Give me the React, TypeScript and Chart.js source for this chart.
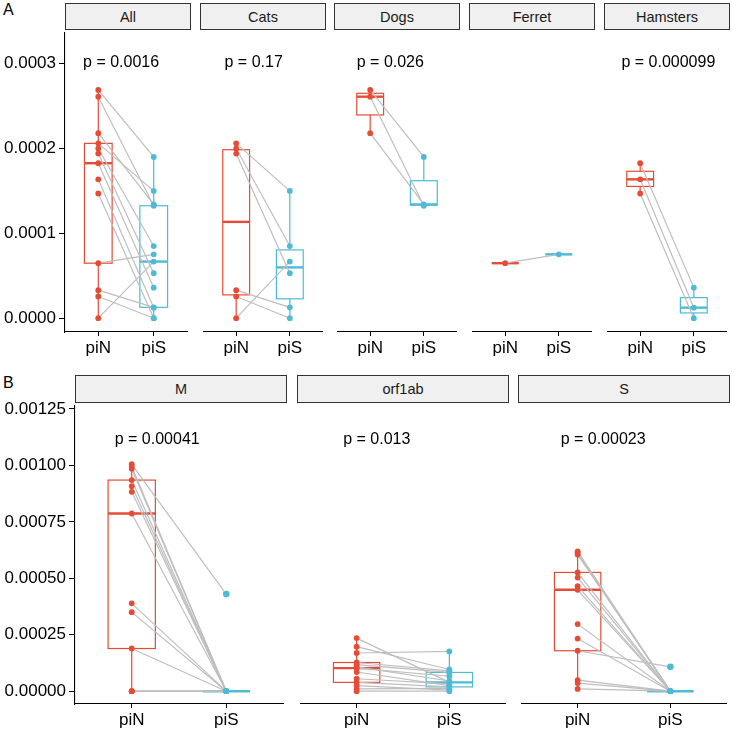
import React, { useEffect, useRef } from "react";
import { Chart, registerables } from "chart.js";
Chart.register(...registerables);

const FONT = "'Liberation Sans', Arial, Helvetica, sans-serif";
const RED = "#E64B35";
const BLUE = "#4DBBD5";
const PAIR_LINE = "#BEBEBE";

const xLabels = ["piN", "piS"];
const topTicks = [0, 0.0001, 0.0002, 0.0003];
const bottomTicks = [0, 0.00025, 0.0005, 0.00075, 0.001, 0.00125];

const topFacets = ["All", "Cats", "Dogs", "Ferret", "Hamsters"];
const bottomFacets = ["M", "orf1ab", "S"];
const topPValues = ["p = 0.0016", "p = 0.17", "p = 0.026", "", "p = 0.000099"];
const bottomPValues = ["p = 0.00041", "p = 0.013", "p = 0.00023"];
const topPLabelY = 0.000301;
const bottomPLabelY = 0.001114;

// Panel A (paired: piN[i] <-> piS[i])
const catsPiN = [0.000206, 0.0002, 0.000194, 0.000033, 0.0000256, 0.0];
const catsPiS = [0.00015, 0.000085, 0.000053, 0.0000128, 0.0, 0.0000667];
const dogsPiN = [0.000269, 0.000261, 0.000218];
const dogsPiS = [0.00019, 0.0001325, 0.000134];
const ferretPiN = [0.0000648];
const ferretPiS = [0.0000752];
const hamstersPiN = [0.0001826, 0.0001636, 0.0001469];
const hamstersPiS = [0.000036, 0.0000124, 0.0];
const allPiN = [...catsPiN, ...dogsPiN, ...ferretPiN, ...hamstersPiN];
const allPiS = [...catsPiS, ...dogsPiS, ...ferretPiS, ...hamstersPiS];

// Panel B (paired: piN[i] <-> piS[i])
const mPiN = [0.001005, 0.000995, 0.000985, 0.000935, 0.000908, 0.000883, 0.000787, 0.000389, 0.00035, 0.000189, 0.0, 0.0, 0.0];
const mPiS = [0.00043, 0, 0, 0, 0, 0, 0, 0, 0, 0, 0, 0, 0];
const orfPiN = [0.000235, 0.000197, 0.000169, 0.000127, 0.000118, 0.000108, 0.000102, 0.000085, 0.000055, 0.000039, 0.000025, 0.00001, 0.0];
const orfPiS = [0.000039, 0.000096, 0.000176, 0.00009, 0.000083, 0.000045, 0.000066, 0.000025, 0.000032, 0.000019, 0.000005, 0.000012, 0.0];
const sPiN = [0.000619, 0.000612, 0.000605, 0.000526, 0.000503, 0.000465, 0.000449, 0.000297, 0.000233, 0.000179, 0.000049, 0.000036, 0.00001];
const sPiS = [0, 0, 0, 0, 0, 0, 0, 0, 0, 0.000108, 0, 0, 0];

const topData = [
  [allPiN, allPiS],
  [catsPiN, catsPiS],
  [dogsPiN, dogsPiS],
  [ferretPiN, ferretPiS],
  [hamstersPiN, hamstersPiS],
];
const bottomData = [
  [mPiN, mPiS],
  [orfPiN, orfPiS],
  [sPiN, sPiS],
];

function boxStats(vals: number[]) {
  const s = [...vals].sort((a, b) => a - b);
  const n = s.length;
  const q = (p: number) => {
    const h = (n - 1) * p;
    const lo = Math.floor(h);
    const hi = Math.min(lo + 1, n - 1);
    return s[lo] + (h - lo) * (s[hi] - s[lo]);
  };
  const q1 = q(0.25), med = q(0.5), q3 = q(0.75);
  const iqr = q3 - q1;
  const eps = 1e-12;
  const inside = s.filter((v) => v >= q1 - 1.5 * iqr - eps && v <= q3 + 1.5 * iqr + eps);
  const out = s.filter((v) => v < q1 - 1.5 * iqr - eps || v > q3 + 1.5 * iqr + eps);
  return { q1, med, q3, lo: Math.min(...inside), hi: Math.max(...inside), out };
}

type PanelProps = {
  left: number;
  top: number;
  width: number;
  plotHeight: number;
  xAxisHeight: number;
  axisWidth: number;
  showY: boolean;
  piN: number[];
  piS: number[];
  yMin: number;
  yMax: number;
  yTicks: number[];
  decimals: number;
  pText: string;
  pY: number;
};

function Panel(p: PanelProps) {
  const ref = useRef<HTMLCanvasElement>(null);
  const height = p.plotHeight + p.xAxisHeight;
  useEffect(() => {
    const groups = [
      { x: 1, values: p.piN, color: RED },
      { x: 2, values: p.piS, color: BLUE },
    ];
    const boxPlugin = {
      id: "boxes",
      beforeDatasetsDraw(chart: any) {
        const { ctx } = chart;
        const xs = chart.scales.x;
        const ys = chart.scales.y;
        ctx.save();
        groups.forEach((g) => {
          const st = boxStats(g.values);
          const xc = xs.getPixelForValue(g.x);
          const xl = xs.getPixelForValue(g.x - 0.25);
          const xr = xs.getPixelForValue(g.x + 0.25);
          const yq1 = ys.getPixelForValue(st.q1);
          const yq3 = ys.getPixelForValue(st.q3);
          ctx.strokeStyle = g.color;
          ctx.lineWidth = 1.2;
          ctx.beginPath();
          ctx.moveTo(xc, yq3);
          ctx.lineTo(xc, ys.getPixelForValue(st.hi));
          ctx.moveTo(xc, yq1);
          ctx.lineTo(xc, ys.getPixelForValue(st.lo));
          ctx.stroke();
          ctx.fillStyle = "#FFFFFF";
          ctx.fillRect(xl, yq3, xr - xl, yq1 - yq3);
          ctx.strokeRect(xl, yq3, xr - xl, yq1 - yq3);
          ctx.lineWidth = 2.4;
          ctx.beginPath();
          const ym = ys.getPixelForValue(st.med);
          ctx.moveTo(xl, ym);
          ctx.lineTo(xr, ym);
          ctx.stroke();
          ctx.fillStyle = g.color;
          st.out.forEach((v) => {
            ctx.beginPath();
            ctx.arc(xc, ys.getPixelForValue(v), 3.3, 0, Math.PI * 2);
            ctx.fill();
          });
        });
        ctx.restore();
      },
    };
    const pPlugin = {
      id: "pvalue",
      afterDraw(chart: any) {
        if (!p.pText) return;
        const { ctx } = chart;
        ctx.save();
        ctx.font = `16px ${FONT}`;
        ctx.fillStyle = "#000000";
        ctx.textBaseline = "middle";
        ctx.textAlign = "left";
        const w = ctx.measureText(p.pText).width;
        const x = chart.scales.x.getPixelForValue(1) - 0.2 * w;
        ctx.fillText(p.pText, x, chart.scales.y.getPixelForValue(p.pY));
        ctx.restore();
      },
    };
    const pairDatasets = p.piN.map((v, i) => ({
      data: [
        { x: 1, y: v },
        { x: 2, y: p.piS[i] },
      ],
      showLine: true,
      borderColor: PAIR_LINE,
      borderWidth: 1.2,
      pointRadius: 0,
      order: 2,
    }));
    const chart = new Chart(ref.current as HTMLCanvasElement, {
      type: "scatter",
      data: {
        datasets: [
          {
            data: p.piN.map((v) => ({ x: 1, y: v })),
            backgroundColor: RED,
            borderWidth: 0,
            pointRadius: 2.9,
            order: 0,
          },
          {
            data: p.piS.map((v) => ({ x: 2, y: v })),
            backgroundColor: BLUE,
            borderWidth: 0,
            pointRadius: 2.9,
            order: 0,
          },
          ...pairDatasets,
        ] as any,
      },
      options: {
        animation: false,
        responsive: false,
        devicePixelRatio: 1,
        events: [],
        layout: { padding: 0 },
        plugins: {
          legend: { display: false },
          tooltip: { enabled: false },
          title: { display: false },
        },
        scales: {
          x: {
            type: "linear",
            min: 0.4,
            max: 2.6,
            afterBuildTicks: (s: any) => {
              s.ticks = [{ value: 1 }, { value: 2 }];
            },
            afterFit: (s: any) => {
              s.height = p.xAxisHeight;
              s.paddingLeft = 0;
              s.paddingRight = 0;
              s.paddingTop = 0;
              s.paddingBottom = 0;
            },
            ticks: {
              callback: (_v: any, i: number) => xLabels[i],
              font: { family: FONT, size: 17 },
              color: "#000000",
              padding: 2,
              maxRotation: 0,
              autoSkip: false,
            },
            grid: {
              display: true,
              drawOnChartArea: false,
              drawTicks: true,
              tickLength: 4,
              color: "#000000",
              lineWidth: 1,
            },
            border: { display: true, color: "#000000", width: 1.1 },
          },
          y: {
            type: "linear",
            display: p.showY,
            min: p.yMin,
            max: p.yMax,
            afterBuildTicks: (s: any) => {
              s.ticks = p.yTicks.map((v) => ({ value: v }));
            },
            afterFit: (s: any) => {
              s.width = p.axisWidth;
              s.paddingTop = 0;
              s.paddingBottom = 0;
              s.paddingLeft = 0;
              s.paddingRight = 0;
            },
            ticks: {
              callback: (v: any) => Number(v).toFixed(p.decimals),
              font: { family: FONT, size: 17 },
              color: "#000000",
              padding: 3,
              autoSkip: false,
            },
            grid: {
              display: true,
              drawOnChartArea: false,
              drawTicks: true,
              tickLength: 6,
              color: "#000000",
              lineWidth: 1,
            },
            border: { display: true, color: "#000000", width: 1.1 },
          },
        },
      } as any,
      plugins: [boxPlugin, pPlugin],
    });
    return () => chart.destroy();
  }, []);
  return (
    <canvas
      ref={ref}
      width={p.width}
      height={height}
      style={{ position: "absolute", left: p.left, top: p.top, width: p.width, height, display: "block" }}
    />
  );
}

function Strip({ left, top, width, height, label }: { left: number; top: number; width: number; height: number; label: string }) {
  return (
    <div
      style={{
        position: "absolute",
        left,
        top,
        width,
        height,
        boxSizing: "border-box",
        border: "1px solid #333333",
        background: "#F0F0F0",
        display: "flex",
        alignItems: "center",
        justifyContent: "center",
        fontFamily: FONT,
        fontSize: 14.5,
        color: "#1A1A1A",
      }}
    >
      {label}
    </div>
  );
}

export default function App() {
  const topLefts = [65, 200, 334, 469, 604];
  const topWidth = 126;
  const bottomLefts = [75, 297, 518];
  const bottomWidth = 212;
  const topPlotTop = 29;
  const topPlotH = 303;
  const botPlotTop = 402;
  const botPlotH = 302;
  const tagStyle = { position: "absolute" as const, left: 3, fontFamily: FONT, fontSize: 16, lineHeight: "16px", color: "#000" };
  return (
    <div style={{ position: "absolute", left: 0, top: 0, width: 732, height: 731, overflow: "hidden", background: "#FFFFFF" }}>
      <div style={{ ...tagStyle, top: 2 }}>A</div>
      <div style={{ ...tagStyle, top: 375 }}>B</div>
      {topFacets.map((f, i) => (
        <Strip key={f} left={topLefts[i]} top={3} width={topWidth} height={27} label={f} />
      ))}
      {bottomFacets.map((f, i) => (
        <Strip key={f} left={bottomLefts[i]} top={375} width={bottomWidth} height={28} label={f} />
      ))}
      {topFacets.map((f, i) => (
        <Panel
          key={"p" + f}
          left={i === 0 ? 0 : topLefts[i]}
          top={topPlotTop}
          width={i === 0 ? topLefts[0] + topWidth : topWidth}
          plotHeight={topPlotH}
          xAxisHeight={36}
          axisWidth={i === 0 ? topLefts[0] : 0}
          showY={i === 0}
          piN={topData[i][0]}
          piS={topData[i][1]}
          yMin={-0.00001628}
          yMax={0.00033605}
          yTicks={topTicks}
          decimals={4}
          pText={topPValues[i]}
          pY={topPLabelY}
        />
      ))}
      {bottomFacets.map((f, i) => (
        <Panel
          key={"p" + f}
          left={i === 0 ? 0 : bottomLefts[i]}
          top={botPlotTop}
          width={i === 0 ? bottomLefts[0] + bottomWidth : bottomWidth}
          plotHeight={botPlotH}
          xAxisHeight={27}
          axisWidth={i === 0 ? bottomLefts[0] : 0}
          showY={i === 0}
          piN={bottomData[i][0]}
          piS={bottomData[i][1]}
          yMin={-0.0000568}
          yMax={0.0012631}
          yTicks={bottomTicks}
          decimals={5}
          pText={bottomPValues[i]}
          pY={bottomPLabelY}
        />
      ))}
    </div>
  );
}
